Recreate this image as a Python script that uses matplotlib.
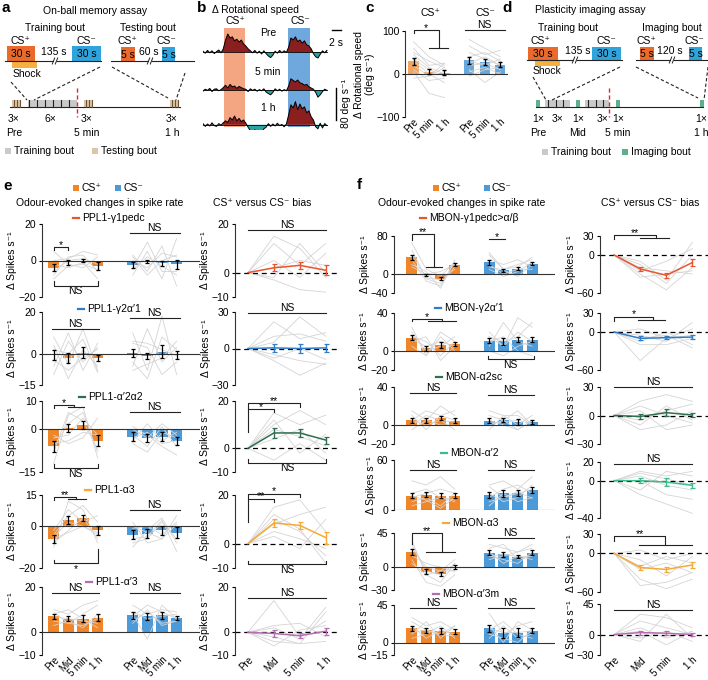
import numpy as np
import matplotlib
matplotlib.use("Agg")
import matplotlib.pyplot as plt
from matplotlib.patches import Rectangle

plt.rcParams['font.family'] = ['Liberation Sans', 'DejaVu Sans']
plt.rcParams['font.size'] = 7.5

W, H = 708, 680
ORANGE = '#f0862a'
BLUE = '#4d9ad8'
GREY_LINE = '#d4d4d4'
DARK = '#222222'
C_RED = '#e8562e'
C_BLUE = '#2f7dc9'
C_DGREEN = '#2f6e4e'
C_TEAL = '#3dbb8a'
C_YEL = '#f6a936'
C_PURP = '#b46db1'

# ---------------- panel b: rotational speed traces (0.5 s bins) ----------------
b_pre = [2, -3, 4, -2, 3, -4, 1, 5, -2,
         8, 30, 45, 35, 38, 28, 32, 25, 30, 20,
         15, 8, 3, -2, 4, -3, 2, -5, 3,
         -4, -10, -14, -8, 2, -3, 4, -2, 3, -1,
         12, 35, 30, 38, 26, 30, 22, 28, 18, 15,
         8, -4, -12, -15, -6, 3, -2, 4]
b_5min = [-3, 2, -1, 4, -4, 2, 3, -2, 1,
          6, 12, 5, 14, 8, 10, 4, 9, 6, 3,
          2, -4, 3, -1, 2, -3, 1, -2, 3,
          -5, -9, -12, -6, 3, -2, 2, -3, 1, -2,
          10, 28, 24, 20, 25, 18, 16, 12, 14, 8,
          5, 2, -6, -18, -12, -4, 2, -1]
b_1h = [3, -4, 2, -3, 5, -2, -4, 3, -1,
        5, 10, 6, 18, 12, 22, 10, 16, 8, 12,
        4, -6, -15, -22, -12, -28, -18, -24, -10,
        -6, 3, -4, 2, -3, 4, -2, 1, -5, 2,
        25, 50, 42, 58, 38, 52, 40, 45, 30, 35,
        20, 12, -5, -10, 4, -8, 3, -2]
b_labels = ['Pre', '5 min', '1 h']

# ---------------- panel c ----------------
c_labels = ['Pre', '5 min', '1 h']
c_plus_mean = [30, 5, 3]
c_plus_err = [8, 6, 6]
c_minus_mean = [32, 28, 22]
c_minus_err = [8, 8, 6]
c_plus_grey = [[75, 40, 20], [60, 20, 25], [45, 15, 0], [30, 0, -20], [20, -5, 25],
               [10, -15, -10], [5, -45, -55], [50, 30, 15], [-10, -5, 15], [35, 10, -5]]
c_minus_grey = [[80, 60, 40], [65, 45, 55], [50, 35, 20], [40, 50, 30], [30, 20, 35],
                [20, 25, 10], [10, -20, 5], [-5, 10, 15], [25, 40, 20], [5, 15, 0]]

# ---------------- panel e ----------------
time_labels = ['Pre', 'Mid', '5 min', '1 h']
e_names = ['PPL1-γ1pedc', 'PPL1-γ2α′1', 'PPL1-α′2α2', 'PPL1-α3', 'PPL1-α′3']
e_colors = [C_RED, C_BLUE, C_DGREEN, C_YEL, C_PURP]
e_ylims = [(-20, 20), (-15, 20), (-15, 10), (-20, 15), (-10, 20)]
e_plus_mean = [[-4, -1, 0, -3], [-0.5, -2, 0.5, -2], [-6, 0.5, 1.5, -4],
               [-6, 3, 4, -2], [7, 6, 6, 6.5]]
e_plus_err = [[2, 1.5, 1, 2], [2.5, 2.5, 2.5, 1.5], [2, 1.5, 1.5, 2],
              [2, 2, 1.5, 2], [1, 1, 1.5, 1.5]]
e_minus_mean = [[-2.5, -0.5, -1.5, -2], [0.5, -1, 1, -0.5], [-2.5, -3, -2.5, -4],
                [-4, -3.5, -2, -3], [7.5, 7, 7.5, 6.3]]
e_minus_err = [[1.5, 1, 1.5, 2.5], [2, 1.5, 3, 2], [1.5, 1.5, 1.5, 1.5],
               [2, 2, 2, 2.5], [1.5, 1.5, 1.5, 1]]
e_plus_grey = [
    [[-8, 2, 3, -6], [-2, -4, -1, -10], [0, 1, 5, 3], [-10, -3, -2, -5], [5, -2, -4, 2], [-6, 0, 1, -2]],
    [[8, -5, 12, -8], [-10, 6, -4, 3], [4, -12, 2, -6], [-6, 10, -8, 5], [2, 0, 7, -9], [-3, -8, -2, 2]],
    [[-12, 5, 8, -10], [-3, -2, 4, -2], [-8, 6, 3, -7], [-2, -5, -3, 4], [-6, 2, 6, -8], [-5, -4, -1, -2]],
    [[-10, 12, 8, -8], [-4, 5, 10, 2], [-8, -2, 4, -6], [-2, 8, 2, 5], [-6, -3, 0, -4], [-5, 2, 0, -3]],
    [[10, 8, 12, 14], [5, 4, 3, 6], [8, 10, 6, 2], [3, 5, 2, 8], [9, 4, 8, 12], [7, 6, 5, 4]],
]
e_minus_grey = [
    [[-8, 5, -10, 12], [3, -6, 8, -14], [-5, 2, -3, -8], [0, -4, 4, 2], [-4, 10, -6, -6], [2, -8, 0, 3]],
    [[-6, 12, -4, 3], [10, -8, 18, -10], [-8, -5, -2, 6], [5, 3, -10, -4], [-4, -12, 8, 2], [6, 5, 2, -1]],
    [[-5, -8, -1, -3], [1, -2, -6, -9], [-4, 2, -4, -1], [-2, -6, 1, -6], [-3, -1, -5, -4], [0, -3, 2, -2]],
    [[-10, -2, 4, -8], [2, -8, -6, 5], [-6, -5, 3, -12], [-1, 0, -4, 2], [-8, -6, 2, -6], [0, -3, -6, 1]],
    [[12, 8, 10, 9], [4, 10, 3, 5], [8, -3, 12, 6], [9, 6, 7, 8], [5, 9, 4, 5], [7, 12, 9, 6]],
]
e_bias_ylims = [(-10, 20), (-30, 30), (-10, 20), (-10, 20), (-10, 20)]
e_bias_mean = [[0, 2, 3, 1], [0, 0.5, 0, 0.5], [0, 6.5, 6.5, 3.5], [0, 8.5, 7.5, 2.5], [0, -0.5, -1.5, 0.5]]
e_bias_err = [[0, 1.5, 1.5, 2], [0, 3, 4, 3], [0, 2, 1.5, 1.5], [0, 1.5, 1.5, 2.5], [0, 1.5, 1, 1.5]]
e_bias_grey = [
    [[0, 15, 10, -2], [0, 12, 3, 12], [0, -2, 12, 0], [0, 5, -2, 8], [0, -3, -7, -8], [0, 2, 5, 3]],
    [[0, 22, 8, 13], [0, -10, -22, -12], [0, 5, 26, 10], [0, -5, -10, -13], [0, 10, 12, 6], [0, -8, 0, -9]],
    [[0, 15, 10, 14], [0, 8, 5, 1], [0, 10, 16, 10], [0, -5, 2, -5], [0, 4, 8, -2], [0, 12, -2, 6]],
    [[0, 15, 18, 5], [0, 10, 5, -5], [0, 8, 12, 15], [0, 5, 2, -2], [0, 3, -2, 10], [0, 12, 6, -8]],
    [[0, 14, -2, 5], [0, 2, -3, 11], [0, -4, -5, -4], [0, -6, 1, 3], [0, 3, 4, -2], [0, -2, -5, 9]],
]
e_sig_bars = [
    [('br', 0, 1, 7.4, '*', 1.9, 1.9), ('br', 0, 3, -13.8, 'NS', -2.5, -2.5), ('br', 5.2, 8.6, 15, 'NS', 0, 0)],
    [('br', -0.1, 3.1, 11.7, 'NS', 0, 0), ('br', 5.2, 8.6, 17, 'NS', 0, 0)],
    [('grp', 0, 1, 2.1, 1.4, 8.6, 7.8, '*', 1.2), ('br', 0, 3, -13.6, 'NS', -1.5, -1.5),
     ('br', 5.2, 8.6, 6, 'NS', 0, 0)],
    [('grp', 0, 1, 2.2, 1.5, 13.9, 13.1, '**', 1.5), ('br', 0, 3, -17.8, '*', -1.5, -7),
     ('br', 5.2, 8.6, 8, 'NS', 0, 0)],
    [('br', -0.1, 3.1, 17.5, 'NS', 0, 0), ('br', 5.2, 8.6, 17.5, 'NS', 0, 0)],
]
e_sig_bias = [
    [('br', 0, 3, 17.5, 'NS', 0, 0)],
    [('br', 0, 3, 29, 'NS', 0, 0)],
    [('br', 0, 2, 19, '**', 12, 1.5), ('br', 0, 1, 16.7, '*', 0, 1.2), ('br', 0, 3, -6, 'NS', -1.5, -1.5)],
    [('br', 0, 2, 20.5, '*', 11.5, 1.5), ('br', 0, 1, 18.5, '**', 0, 1.2), ('br', 0, 3, -8.5, 'NS', -1.5, -1.5)],
    [('br', 0, 3, 15, 'NS', 0, 0)],
]

# ---------------- panel f ----------------
f_names = ['MBON-γ1pedc>α/β', 'MBON-γ2α′1', 'MBON-α2sc', 'MBON-α′2', 'MBON-α3', 'MBON-α′3m']
f_colors = [C_RED, C_BLUE, C_DGREEN, C_TEAL, C_YEL, C_PURP]
f_ylims = [(-40, 80), (-20, 40), (-20, 40), (0, 60), (-30, 45), (-15, 45)]
f_plus_mean = [[35, -3, -10, 20], [14, 3, 6, 7], [5, 5, 7.5, 4.5],
               [17, 18.5, 17, 17], [20, -6, -9, 0], [17, 15, 14, 13]]
f_plus_err = [[5, 2, 3, 3], [2.5, 2.5, 3, 2], [2.5, 2.5, 2, 2.5],
              [3, 3, 3, 3], [4, 3, 3, 3], [3, 3, 4, 3]]
f_minus_mean = [[25, 8, 11, 22], [11, 10, 12, 12], [4.5, 5.5, 3.5, 3.5],
                [18, 20, 20.5, 24], [19, 17, 14, 19], [17, 12, 12, 14]]
f_minus_err = [[5, 3, 3, 3], [2.5, 4, 3, 3], [2.5, 2, 3, 2],
               [4, 4, 4, 4], [3, 3, 2.5, 3], [4, 6, 5, 3]]
f_plus_grey = [
    [[65, 10, -5, 25], [50, -10, -20, 15], [20, 5, -30, 30], [40, -8, -12, 10], [15, 0, 5, 20], [30, -15, -25, 25]],
    [[25, -5, 20, 10], [10, 15, -10, 5], [20, 0, 5, 15], [5, -5, 15, 0], [15, 10, -5, 10], [12, 5, 10, 5]],
    [[15, 5, 20, 10], [0, 10, 5, -5], [10, -5, 10, 15], [-5, 5, 0, 0], [5, 15, 10, 5], [5, 0, 5, 3]],
    [[35, 30, 40, 25], [10, 15, 5, 20], [20, 25, 15, 10], [15, 20, 25, 20], [5, 10, 15, 12], [17, 12, 2, 15]],
    [[35, -10, -20, 5], [25, 0, -5, 10], [10, -20, -25, -10], [30, -5, -10, 5], [15, 5, 0, -5], [5, -10, -5, -5]],
    [[30, 20, 25, 15], [10, 25, 5, 20], [20, 5, 15, 10], [5, 10, 20, 5], [25, 15, 10, 20], [12, 15, 9, 8]],
]
f_minus_grey = [
    [[45, 10, 20, 30], [10, -5, 5, 25], [30, 20, 30, 15], [15, 8, -5, 20], [40, 10, 15, 35], [20, 0, 10, 10]],
    [[20, 5, 35, 25], [5, 30, 10, 5], [15, 10, 15, 30], [0, -5, 5, 10], [10, 15, 0, -5], [15, 5, 20, 10]],
    [[10, 5, 15, 0], [-5, 10, 0, 10], [5, 0, -5, 5], [15, 10, 10, 0], [0, 5, -5, 5], [2, 3, 5, 1]],
    [[30, 35, 25, 40], [10, 15, 20, 25], [15, 25, 30, 20], [20, 10, 15, 30], [5, 20, 10, 15], [28, 15, 22, 14]],
    [[30, 25, 20, 30], [15, 10, 5, 20], [25, 30, 10, 15], [10, 15, 20, 25], [20, 5, 15, 10], [14, 17, 14, 14]],
    [[35, 10, 20, 25], [5, 20, 5, 10], [20, 0, 25, 15], [15, 25, 10, 5], [10, 5, 0, 15], [17, 12, 12, 14]],
]
f_bias_ylims = [(-60, 30), (-60, 30), (-30, 30), (-40, 20), (-60, 30), (-30, 45)]
f_bias_mean = [[0, -22, -32, -12], [0, -10, -9, -8], [0, -1, 3, 0.5],
               [0, 0, -1.5, -5], [0, -22, -25, -18], [0, 3, 2, 0]]
f_bias_err = [[0, 3, 4, 5], [0, 3, 2, 3], [0, 3, 4, 2.5], [0, 3, 4, 3], [0, 4, 4, 4], [0, 3, 3, 2]]
f_bias_grey = [
    [[0, -10, -40, 20], [0, -30, -55, -20], [0, -20, -25, -30], [0, -15, -45, 0], [0, -35, -30, -25], [0, -25, -10, 10]],
    [[0, -45, -10, -5], [0, -5, -15, 15], [0, -15, 0, -20], [0, 5, -10, 5], [0, -10, -5, -25], [0, -20, -20, -10]],
    [[0, 15, 22, 15], [0, -10, 10, -5], [0, 5, -15, -10], [0, -5, 5, 12], [0, 10, 0, -8], [0, -15, -10, 5]],
    [[0, 10, 5, 10], [0, -15, -25, -35], [0, 5, -5, -10], [0, -10, 10, 5], [0, 0, -15, -20], [0, 8, 2, -5]],
    [[0, -50, -45, -30], [0, -10, -35, -5], [0, -25, -15, -30], [0, -40, -55, -40], [0, 5, -10, 0], [0, -20, -5, -15]],
    [[0, 30, 25, 10], [0, 10, -5, 5], [0, -10, 30, -5], [0, 20, 10, 0], [0, -5, 5, -10], [0, 5, -15, 5]],
]
f_sig_bars = [
    [('grp', 0, 1, 2.1, 1.54, 84, 15, '**', 12), ('br', 5.4, 6.5, 74, '*', 0, 0)],
    [('grp', 0, 1.1, 3.1, 2.1, 33.7, 31.6, '*', 2.5), ('br', 5.3, 8.5, -8.5, 'NS', -3, -3)],
    [('br', -0.1, 3.1, 33.7, 'NS', 0, 0), ('br', 5.3, 8.5, 31.6, 'NS', 0, 0)],
    [('br', -0.1, 3.1, 48, 'NS', 0, 0), ('br', 5.3, 8.5, 48, 'NS', 0, 0)],
    [('grp', 0, 1, 3, 2.1, 45, 19.8, '**', 15), ('br', 5.3, 8.5, 38, 'NS', 0, 0)],
    [('br', -0.1, 3.1, 41.8, 'NS', 0, 0), ('br', 5.3, 8.5, 41.8, 'NS', 0, 0)],
]
f_sig_bias = [
    [('grp', 0, 1, 2.1, 1.6, 31, 27.4, '**', 6)],
    [('grp', 0, 0.92, 1.96, 1.5, 24, 19, '*', 6)],
    [('br', 0, 3, 30, 'NS', 0, 0)],
    [('br', 0, 3, 17.8, 'NS', 0, 0)],
    [('grp', 0, 0.96, 3, 1.96, 27, 12.6, '**', 7.5)],
    [('br', 0, 3, 36, 'NS', 0, 0)],
]
c_sig = [('grp', 0, 1, 2.2, 1.65, 102, 60, '*', 7), ('br', 3.3, 5.9, 102, 'NS', 0, 0)]


fig = plt.figure(figsize=(W / 100, H / 100), dpi=100)


def px_axes(x0, y0, x1, y1):
    return fig.add_axes([x0 / W, 1 - y1 / H, (x1 - x0) / W, (y1 - y0) / H])


def style(ax, ylim):
    ax.set_ylim(ylim)
    ticks = [ylim[0], 0, ylim[1]] if ylim[0] < 0 else [0, ylim[1]]
    ax.set_yticks(ticks)
    for s in ['top', 'right', 'bottom']:
        ax.spines[s].set_visible(False)
    ax.spines['left'].set_linewidth(0.8)
    ax.spines['left'].set_color('#333333')
    ax.tick_params(axis='y', length=2.5, width=0.8, pad=1.5, labelsize=7.5)
    ax.tick_params(axis='x', length=0, labelsize=7, pad=0)
    ax.patch.set_alpha(0)


def sig(ax, spec):
    if spec[0] == 'br':
        _, x0, x1, y, txt, d0, d1 = spec
        ax.plot([x0, x0, x1, x1], [y - d0, y, y, y - d1], color=DARK, lw=0.8,
                clip_on=False, zorder=5)
        up = d0 >= 0 and d1 >= 0
        xt = (x0 + x1) / 2
    else:
        _, x0, g0, g1, xj, y, yg, txt, d0 = spec
        ax.plot([x0, x0, xj, xj], [y - d0, y, y, yg], color=DARK, lw=0.8,
                clip_on=False, zorder=5)
        ax.plot([g0, g1], [yg, yg], color=DARK, lw=0.8, clip_on=False, zorder=5)
        up = True
        xt = (x0 + xj) / 2
    if up:
        dy = -2.0 if txt.startswith('*') else 0.0
        va = 'bottom'
    else:
        dy = -0.5
        va = 'top'
    ax.annotate(txt, (xt, y), xytext=(0, dy), textcoords='offset points',
                ha='center', va=va, fontsize=7.5, annotation_clip=False)


def bar_panel(ax, ylim, pm, pe, mm, me, pg, mg, sigs, xlim, show_x):
    xp = np.arange(4)
    xm = xp + 5.4
    ax.bar(xp, pm, width=0.78, color=ORANGE, zorder=1)
    ax.bar(xm, mm, width=0.78, color=BLUE, zorder=1)
    for g in pg:
        ax.plot(xp, g, color=GREY_LINE, lw=0.6, zorder=2)
    for g in mg:
        ax.plot(xm, g, color=GREY_LINE, lw=0.6, zorder=2)
    ax.errorbar(xp, pm, yerr=pe, fmt='none', ecolor='k', elinewidth=0.9, capsize=1.5, capthick=0.9, zorder=4)
    ax.errorbar(xm, mm, yerr=me, fmt='none', ecolor='k', elinewidth=0.9, capsize=1.5, capthick=0.9, zorder=4)
    ax.axhline(0, color='#333333', lw=0.8, zorder=3)
    style(ax, ylim)
    ax.set_xlim(xlim)
    if show_x:
        ax.set_xticks(np.r_[xp, xm])
        ax.set_xticklabels(time_labels * 2, rotation=45, ha='right', rotation_mode='anchor')
    else:
        ax.set_xticks([])
    ax.set_ylabel('Δ Spikes s⁻¹', labelpad=1)
    for s in sigs:
        sig(ax, s)


def bias_panel(ax, ylim, mean, err, grey, color, sigs, xlim, show_x):
    x = np.arange(4)
    for g in grey:
        ax.plot(x, g, color=GREY_LINE, lw=0.6, zorder=1)
    ax.axhline(0, color='k', lw=0.9, ls=(0, (4, 3)), zorder=2)
    ax.plot(x, mean, color=color, lw=1.1, zorder=3)
    ax.errorbar(x[1:], mean[1:], yerr=err[1:], fmt='none', ecolor=color, elinewidth=1.0,
                capsize=1.8, capthick=0.9, zorder=4)
    style(ax, ylim)
    ax.set_xlim(xlim)
    if show_x:
        ax.set_xticks(x)
        ax.set_xticklabels(time_labels, rotation=45, ha='right', rotation_mode='anchor')
    else:
        ax.set_xticks([])
    ax.set_ylabel('Δ Spikes s⁻¹', labelpad=1)
    for s in sigs:
        sig(ax, s)


# ---------------- overlay for schematics and labels ----------------
ov = fig.add_axes([0, 0, 1, 1])
ov.set_xlim(0, W)
ov.set_ylim(H, 0)
ov.axis('off')


def T(x, y, s, ha='center', **kw):
    ov.text(x, y, s, ha=ha, va='center', fontsize=kw.pop('fontsize', 7.5), **kw)


def box(x0, y0, x1, y1, color, txt=None):
    ov.add_patch(Rectangle((x0, y0), x1 - x0, y1 - y0, color=color, lw=0))
    if txt:
        T((x0 + x1) / 2, (y0 + y1) / 2 + 0.5, txt)


def brk(x, y):
    ov.add_patch(Rectangle((x - 1.5, y - 1), 3, 2, color='white', lw=0, zorder=3))
    for dx in (-1.5, 1.5):
        ov.plot([x + dx - 1.2, x + dx + 1.2], [y + 3, y - 3], color=DARK, lw=0.7, zorder=4)


def hline(x0, x1, y):
    ov.plot([x0, x1], [y, y], color=DARK, lw=0.8)


def dashed(p, q):
    ov.plot([p[0], q[0]], [p[1], q[1]], color=DARK, lw=0.8, ls=(0, (3, 2)))


def stripes(x0, x1, y0, y1, xs, fill, col):
    ov.add_patch(Rectangle((x0, y0), x1 - x0, y1 - y0, color=fill, lw=0))
    for x in xs:
        ov.plot([x, x], [y0, y1], color=col, lw=0.8)


# panel letters
for let, x, y in [('a', 2, 8), ('b', 197, 8), ('c', 365, 8), ('d', 502, 8), ('e', 3, 186), ('f', 357, 185)]:
    T(x, y, let, ha='left', fontsize=11, fontweight='bold')

# ---- panel a ----
T(95, 11, 'On-ball memory assay')
T(55, 28, 'Training bout')
T(148, 28, 'Testing bout')
T(20, 41, 'CS⁺')
T(86, 41, 'CS⁻')
box(7, 46, 35, 61, '#ea6a2c', '30 s')
T(54, 52, '135 s')
box(72, 46, 101, 61, '#2ea3dc', '30 s')
hline(5, 101, 61)
brk(55, 61)
box(12, 61, 37, 68, '#f6b042')
T(13, 74, 'Shock', ha='left')
T(127, 41, 'CS⁺')
T(166, 41, 'CS⁻')
box(121, 47, 135, 61, '#ea6a2c', '5 s')
T(149, 52, '60 s')
box(162, 47, 175, 61, '#2ea3dc', '5 s')
hline(111, 194, 61)
brk(150, 61)
hline(10, 180, 107)
stripes(12, 21, 100, 107, [13.5, 16.5, 19.5], '#dcc6a8', '#6e5238')
stripes(84, 93, 100, 107, [85.5, 88.5, 91.5], '#dcc6a8', '#6e5238')
stripes(170, 179, 100, 107, [171.5, 174.5, 177.5], '#dcc6a8', '#6e5238')
stripes(28, 77, 100, 107, [29, 37, 45, 53, 61, 69], '#c9c9c9', DARK)
ov.plot([77, 77], [88, 117], color='#e8232a', lw=1, ls=(0, (3, 2)))
dashed((11, 82), (27, 100))
dashed((100, 67), (34, 100))
dashed((112, 67), (168, 98))
dashed((185, 73), (176, 100))
for x, s1, s2 in [(14, '3×', 'Pre'), (50, '6×', ''), (87, '3×', '5 min'), (172, '3×', '1 h')]:
    T(x, 119, s1)
    if s2:
        T(x, 133, s2)
box(5, 148, 11, 154, '#c9c9c9')
T(14, 151, 'Training bout', ha='left')
box(92, 148, 98, 154, '#dcc6a8')
T(101, 151, 'Testing bout', ha='left')

# ---- panel d ----
T(590, 10, 'Plasticity imaging assay')
T(568, 28, 'Training bout')
T(672, 28, 'Imaging bout')
T(540, 41, 'CS⁺')
T(606, 41, 'CS⁻')
box(528, 47, 558, 60, '#ea6a2c', '30 s')
T(578, 51, '135 s')
box(592, 47, 621, 60, '#2ea3dc', '30 s')
hline(527, 622, 60)
brk(575, 60)
box(535, 60, 560, 66, '#f6b042')
T(533, 71, 'Shock', ha='left')
T(646, 41, 'CS⁺')
T(694, 41, 'CS⁻')
box(640, 47, 654, 60, '#ea6a2c', '5 s')
T(670, 51, '120 s')
box(689, 47, 702, 60, '#2ea3dc', '5 s')
hline(636, 708, 60)
brk(672, 60)
hline(536, 703, 107)
for x in (536, 576, 616, 700):
    box(x, 100, x + 4, 107, '#5fae8c')
stripes(545, 570, 100, 107, [548, 556, 563], '#c9c9c9', DARK)
stripes(585, 609, 100, 107, [588, 596, 603], '#c9c9c9', DARK)
ov.plot([609, 609], [88, 117], color='#e8232a', lw=1, ls=(0, (3, 2)))
dashed((533, 77), (546, 100))
dashed((620, 67), (552, 100))
dashed((636, 67), (698, 98))
dashed((708, 67), (704, 100))
for x, s1, s2 in [(538, '1×', 'Pre'), (558, '3×', ''), (578, '1×', 'Mid'), (603, '3×', ''),
                  (618, '1×', '5 min'), (701, '1×', '1 h')]:
    T(x, 119, s1)
    if s2:
        T(x, 133, s2)
box(542, 149, 548, 155, '#c9c9c9')
T(551, 152, 'Training bout', ha='left')
box(622, 149, 628, 155, '#5fae8c')
T(631, 152, 'Imaging bout', ha='left')

# ---- panel b ----
T(255, 10, 'Δ Rotational speed')
T(235, 21, 'CS⁺')
T(300, 21, 'CS⁻')
axb = px_axes(203, 26, 345, 130)
axb.set_xlim(0, 31.5)
axb.set_ylim(-195, 65)
axb.axis('off')
axb.axvspan(4.6, 9.3, ymin=0.03, ymax=0.98, color='#f4a582', lw=0)
axb.axvspan(18.9, 23.8, ymin=0.03, ymax=0.98, color='#6fa8dc', lw=0)
t = np.arange(len(b_pre)) * 0.5
for trace, off, lab, ly in [(b_pre, 0, b_labels[0], 33), (b_5min, -95, b_labels[1], 72),
                            (b_1h, -182, b_labels[2], 108)]:
    v = np.array(trace, dtype=float)
    axb.fill_between(t, off, off + v, where=v >= 0, color='#8b1e1e', lw=0, interpolate=True)
    axb.fill_between(t, off, off + v, where=v < 0, color='#2aa3a3', lw=0, interpolate=True)
    axb.plot(t, off + v, color='k', lw=0.7)
    axb.axhline(off, xmin=0, xmax=27.5 / 31.5, color='k', lw=0.6)
    T(268, ly, lab)
axb.plot([28.6, 30.6], [56, 56], color='k', lw=1)
T(336, 43, '2 s')
axb.plot([29.6, 29.6], [-90, -170], color='k', lw=1)
ov.text(346, 104, '80 deg s⁻¹', rotation=90, ha='center', va='center', fontsize=7.5)

# ---- panel c ----
T(430, 13, 'CS⁺')
T(485, 13, 'CS⁻')
axc = px_axes(405, 31, 508, 117)
xc_p = np.arange(3)
xc_m = xc_p + 3.6
axc.bar(xc_p, c_plus_mean, width=0.65, color=ORANGE, alpha=0.75, zorder=1)
axc.bar(xc_m, c_minus_mean, width=0.65, color=BLUE, alpha=0.85, zorder=1)
for g in c_plus_grey:
    axc.plot(xc_p, g, color=GREY_LINE, lw=0.6, zorder=2)
for g in c_minus_grey:
    axc.plot(xc_m, g, color=GREY_LINE, lw=0.6, zorder=2)
axc.errorbar(xc_p, c_plus_mean, yerr=c_plus_err, fmt='none', ecolor='k', elinewidth=0.9, capsize=1.5, zorder=4)
axc.errorbar(xc_m, c_minus_mean, yerr=c_minus_err, fmt='none', ecolor='k', elinewidth=0.9, capsize=1.5, zorder=4)
axc.axhline(0, color='#333333', lw=0.8, zorder=3)
style(axc, (-100, 100))
axc.set_xlim(-0.55, 6.1)
axc.set_xticks(np.r_[xc_p, xc_m])
axc.set_xticklabels(c_labels * 2, rotation=45, ha='right', rotation_mode='anchor')
axc.set_ylabel('Δ Rotational speed\n(deg s⁻¹)', labelpad=1, linespacing=1.1)
for s in c_sig:
    sig(axc, s)

# ---- panel e ----
for x0, lab, col in [(73, 'CS⁺', ORANGE), (115, 'CS⁻', BLUE)]:
    box(x0, 185, x0 + 6, 191, col)
    T(x0 + 8, 188, lab, ha='left')
T(100, 203, 'Odour-evoked changes in spike rate')
T(262, 203, 'CS⁺ versus CS⁻ bias')
e_rows = [(224, 297), (312, 385), (401, 472), (495, 568), (587, 655)]
e_lab = [(73, 218), (78, 309), (79, 397), (85, 490), (86, 582)]
for i, (y0, y1) in enumerate(e_rows):
    last = i == len(e_rows) - 1
    axl = px_axes(42, y0, 200, y1)
    bar_panel(axl, e_ylims[i], e_plus_mean[i], e_plus_err[i], e_minus_mean[i], e_minus_err[i],
              e_plus_grey[i], e_minus_grey[i], e_sig_bars[i], (-0.8, 10.0), last)
    axr = px_axes(235, y0, 340, y1)
    bias_panel(axr, e_bias_ylims[i], e_bias_mean[i], e_bias_err[i], e_bias_grey[i], e_colors[i],
               e_sig_bias[i], (-0.5, 3.55), last)
    lx, ly = e_lab[i]
    ov.plot([lx, lx + 6], [ly, ly], color=e_colors[i], lw=1.6)
    T(lx + 9, ly, e_names[i], ha='left')

# ---- panel f ----
for x0, lab, col in [(433, 'CS⁺', ORANGE), (484, 'CS⁻', BLUE)]:
    box(x0, 185, x0 + 6, 191, col)
    T(x0 + 8, 188, lab, ha='left')
T(462, 203, 'Odour-evoked changes in spike rate')
T(650, 203, 'CS⁺ versus CS⁻ bias')
f_rows_l = [(236, 293), (313, 370), (387, 444), (460, 510), (533, 590), (605, 655)]
f_rows_r = [(236, 293), (313, 370), (387, 444), (462, 518), (534, 592), (604, 655)]
f_lab = [(420, 218), (435, 308), (436, 377), (441, 453), (443, 523), (433, 594)]
for i in range(len(f_names)):
    last = i == len(f_names) - 1
    y0, y1 = f_rows_l[i]
    axl = px_axes(394, y0, 555, y1)
    bar_panel(axl, f_ylims[i], f_plus_mean[i], f_plus_err[i], f_minus_mean[i], f_minus_err[i],
              f_plus_grey[i], f_minus_grey[i], f_sig_bars[i], (-1.25, 10.0), last)
    y0, y1 = f_rows_r[i]
    axr = px_axes(600, y0, 708, y1)
    bias_panel(axr, f_bias_ylims[i], f_bias_mean[i], f_bias_err[i], f_bias_grey[i], f_colors[i],
               f_sig_bias[i], (-0.54, 3.6), last)
    lx, ly = f_lab[i]
    ov.plot([lx, lx + 6], [ly, ly], color=f_colors[i], lw=1.6)
    T(lx + 9, ly, f_names[i], ha='left')

fig.savefig('out.png', dpi=100)
